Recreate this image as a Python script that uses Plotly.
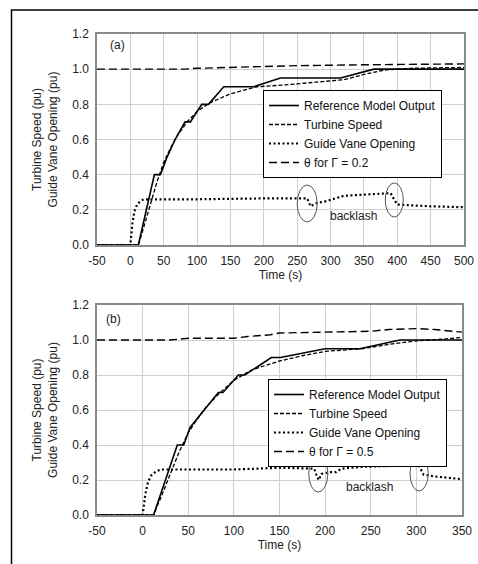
import plotly.graph_objects as go

# ---------------- Panel (a) data ----------------
ref_a_t = [-50, 12, 36, 45, 55, 67, 82, 90, 107, 117, 140, 185, 225, 315, 365, 500]
ref_a_y = [0, 0, 0.4, 0.4, 0.5, 0.6, 0.7, 0.7, 0.8, 0.8, 0.9, 0.9, 0.95, 0.95, 1.0, 1.0]
spd_a_t = [-50, 12, 20, 30, 40, 50, 60, 70, 85, 100, 120, 150, 190, 230, 280, 320, 350, 380, 420, 500]
spd_a_y = [0, 0, 0.1, 0.23, 0.36, 0.47, 0.55, 0.62, 0.7, 0.76, 0.81, 0.86, 0.9, 0.91, 0.925, 0.94, 0.97, 0.995, 1.005, 1.01]
gvo_a_t = [-50, 0, 3, 6, 10, 15, 20, 100, 200, 265, 270, 280, 295, 300, 320, 350, 390, 395, 400, 450, 500]
gvo_a_y = [0, 0, 0.12, 0.19, 0.23, 0.25, 0.26, 0.26, 0.265, 0.265, 0.22, 0.24, 0.25, 0.257, 0.28, 0.285, 0.295, 0.26, 0.23, 0.22, 0.215]
th_a_t = [-50, 80, 100, 150, 250, 350, 500]
th_a_y = [1.0, 1.0, 1.005, 1.01, 1.02, 1.025, 1.03]

# ---------------- Panel (b) data ----------------
ref_b_t = [-50, 12, 38, 45, 52, 68, 83, 88, 105, 112, 141, 151, 200, 238, 282, 350]
ref_b_y = [0, 0, 0.4, 0.4, 0.5, 0.6, 0.7, 0.7, 0.8, 0.8, 0.9, 0.9, 0.95, 0.95, 1.0, 1.0]
spd_b_t = [-50, 12, 20, 30, 40, 50, 60, 70, 85, 100, 120, 150, 175, 200, 240, 270, 300, 330, 350]
spd_b_y = [0, 0, 0.1, 0.23, 0.36, 0.47, 0.55, 0.62, 0.7, 0.77, 0.83, 0.88, 0.91, 0.935, 0.95, 0.975, 0.995, 1.005, 1.015]
gvo_b_t = [-50, 0, 3, 6, 10, 15, 20, 100, 150, 188, 191, 193, 196, 205, 212, 218, 240, 270, 300, 303, 308, 320, 350]
gvo_b_y = [0, 0, 0.12, 0.19, 0.23, 0.25, 0.26, 0.26, 0.27, 0.265, 0.22, 0.2, 0.235, 0.245, 0.245, 0.265, 0.275, 0.28, 0.29, 0.28, 0.23, 0.22, 0.205]
th_b_t = [-50, 30, 50, 100, 115, 140, 150, 200, 250, 270, 300, 320, 340, 350]
th_b_y = [1.0, 1.0, 1.01, 1.01, 1.02, 1.03, 1.04, 1.045, 1.05, 1.06, 1.065, 1.06, 1.05, 1.045]

series_names = ["Reference Model Output", "Turbine Speed", "Guide Vane Opening"]
theta_names = ["θ for Γ = 0.2", "θ for Γ = 0.5"]
x_ticks_a = [-50, 0, 50, 100, 150, 200, 250, 300, 350, 400, 450, 500]
x_ticks_b = [-50, 0, 50, 100, 150, 200, 250, 300, 350]
y_ticks = [0.0, 0.2, 0.4, 0.6, 0.8, 1.0, 1.2]

W, H = 478, 564
FONT = "Liberation Sans, Arial, sans-serif"

fig = go.Figure()

styles = [
    dict(color="black", width=1.6, dash="solid"),
    dict(color="black", width=1.3, dash="4px,2px"),
    dict(color="black", width=2.2, dash="2px,2.5px"),
    dict(color="black", width=1.4, dash="8px,4px"),
]

def add_panel(xa, ya, leg, data, thname):
    names = series_names + [thname]
    for (t, y), nm, st in zip(data, names, styles):
        fig.add_trace(go.Scatter(x=t, y=y, mode="lines", name=nm, line=st,
                                 xaxis=xa, yaxis=ya, legend=leg))

add_panel("x", "y", "legend",
          [(ref_a_t, ref_a_y), (spd_a_t, spd_a_y), (gvo_a_t, gvo_a_y), (th_a_t, th_a_y)], theta_names[0])
add_panel("x2", "y2", "legend2",
          [(ref_b_t, ref_b_y), (spd_b_t, spd_b_y), (gvo_b_t, gvo_b_y), (th_b_t, th_b_y)], theta_names[1])

def px_x(p):
    return p / W

def px_y(p):
    return 1 - p / H

axis_common = dict(showgrid=True, gridcolor="#cfcfcf", gridwidth=1, zeroline=False,
                   showline=True, linecolor="#8a8a8a", linewidth=1.5, mirror=True,
                   automargin=False,
                   ticks="outside", ticklen=4, tickcolor="rgba(0,0,0,0)",
                   tickfont=dict(family=FONT, size=12, color="#222"))

ytitle = "Turbine Speed (pu)<br>Guide Vane Opening (pu)"
tfont = dict(family=FONT, size=12, color="#222")

legend_common = dict(bgcolor="white", bordercolor="black", borderwidth=1,
                     font=dict(family=FONT, size=12, color="#111"),
                     xanchor="left", yanchor="top", itemwidth=30,
                     tracegroupgap=0)

fig.update_layout(
    width=W, height=H,
    margin=dict(l=0, r=0, t=0, b=0),
    paper_bgcolor="white", plot_bgcolor="white",
    font=dict(family=FONT, size=11, color="#222"),
    xaxis=dict(domain=[px_x(97), px_x(464)], range=[-50, 500], tickvals=x_ticks_a,
               ticktext=[str(v) for v in x_ticks_a],
               anchor="y", title=dict(text="Time (s)", standoff=0, font=tfont),
               **axis_common),
    yaxis=dict(domain=[px_y(245), px_y(34)], range=[0, 1.2], tickvals=y_ticks,
               tickformat=".1f", anchor="x",
               title=dict(text=ytitle, standoff=12, font=tfont),
               **axis_common),
    xaxis2=dict(domain=[px_x(97), px_x(462)], range=[-50, 350], tickvals=x_ticks_b,
                ticktext=[str(v) for v in x_ticks_b],
                anchor="y2", title=dict(text="Time (s)", standoff=0, font=tfont),
                **axis_common),
    yaxis2=dict(domain=[px_y(515), px_y(305)], range=[0, 1.2], tickvals=y_ticks,
                tickformat=".1f", anchor="x2",
                title=dict(text=ytitle, standoff=12, font=tfont),
                **axis_common),
    legend=dict(x=px_x(263), y=px_y(90), **legend_common),
    legend2=dict(x=px_x(268), y=px_y(379), **legend_common),
    showlegend=True,
)

# backlash ellipses
ell = dict(type="circle", line=dict(color="#555", width=1), fillcolor="rgba(0,0,0,0)", layer="above")
fig.add_shape(xref="x", yref="y", x0=250, x1=280, y0=0.131, y1=0.341, **ell)
fig.add_shape(xref="x", yref="y", x0=382, x1=409, y0=0.159, y1=0.353, **ell)
fig.add_shape(xref="x2", yref="y2", x0=182, x1=203, y0=0.131, y1=0.343, **ell)
fig.add_shape(xref="x2", yref="y2", x0=293, x1=313, y0=0.137, y1=0.337, **ell)

# outer frame (left and top edges visible)
fig.add_shape(type="rect", xref="paper", yref="paper", x0=px_x(11.5), x1=1.05,
              y0=-0.05, y1=px_y(10), line=dict(color="black", width=1.5))

ann_font = dict(family=FONT, size=12, color="#222")
fig.add_annotation(xref="x", yref="y", x=334, y=0.165, text="backlash", showarrow=False, font=ann_font)
fig.add_annotation(xref="x2", yref="y2", x=249, y=0.16, text="backlash", showarrow=False, font=ann_font)
fig.add_annotation(xref="x", yref="y", x=-20, y=1.14, text="(a)", showarrow=False, font=ann_font)
fig.add_annotation(xref="x2", yref="y2", x=-32, y=1.12, text="(b)", showarrow=False, font=ann_font)

fig.write_html("out.html", config={"displayModeBar": False},
               post_script="document.body.style.margin='0';document.body.style.overflow='hidden';")
